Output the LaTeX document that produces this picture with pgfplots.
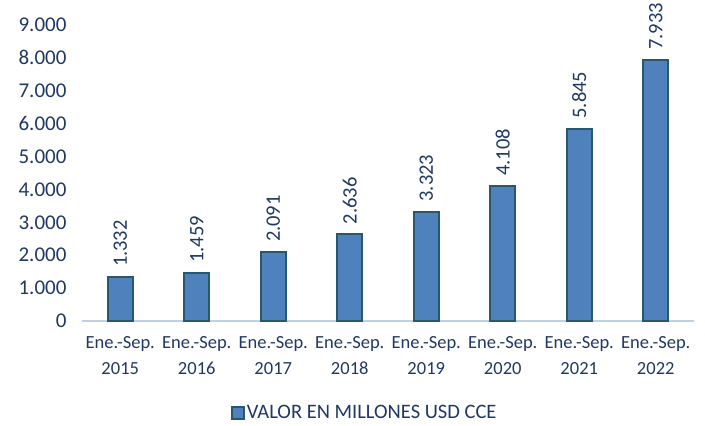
\documentclass[border=0pt]{standalone}
\usepackage{fontspec}
\setmainfont{Carlito}
\usepackage{pgfplots}
\pgfplotsset{compat=1.18}
\definecolor{barblue}{RGB}{79,129,189}
\definecolor{bardark}{RGB}{40,88,108}
\definecolor{txtblue}{RGB}{31,56,100}
\definecolor{axisline}{RGB}{191,208,228}
\begin{document}
\begin{tikzpicture}[x=1pt,y=1pt]
\path[use as bounding box] (-82,-105) rectangle (623,321);
\begin{axis}[
  at={(0,0)}, anchor=south west,
  scale only axis,
  width=612pt, height=296pt,
  ybar, bar width=25pt,
  xmin=-0.5, xmax=7.5,
  ymin=0, ymax=9000,
  ytick={0,1000,...,9000},
  xtick=data,
  xticklabels={{Ene.-Sep.\\2015},{Ene.-Sep.\\2016},{Ene.-Sep.\\2017},{Ene.-Sep.\\2018},{Ene.-Sep.\\2019},{Ene.-Sep.\\2020},{Ene.-Sep.\\2021},{Ene.-Sep.\\2022}},
  xticklabel style={align=center, font=\fontsize{18.5}{25.5}\selectfont, text=txtblue, yshift=-12pt},
  yticklabel style={font=\fontsize{21}{24}\selectfont, text=txtblue, xshift=-12pt},
  axis x line*=bottom,
  axis y line*=left,
  y axis line style={draw=none},
  x axis line style={draw=axisline, line width=1.2pt},
  major tick length=0pt,
  /pgf/number format/.cd, fixed, 1000 sep={.}, assume math mode=true,
  /pgfplots/.cd,
  scaled y ticks=false,
  clip=false,
  nodes near coords,
  every node near coord/.append style={rotate=90, anchor=west, font=\fontsize{20.5}{24}\selectfont, text=txtblue, xshift=6pt},
  legend style={at={(0.462,-0.31)}, anchor=center, draw=none, fill=none,
    font=\fontsize{20.5}{24}\selectfont, text=txtblue},
  legend image code/.code={\draw[#1] (0pt,-6pt) rectangle (12pt,6pt);},
]
\addplot[fill=barblue, draw=bardark, line width=1.8pt]
  coordinates {(0,1332)(1,1459)(2,2091)(3,2636)(4,3323)(5,4108)(6,5845)(7,7933)};
\addlegendentry{VALOR EN MILLONES USD CCE}
\end{axis}
\end{tikzpicture}
\end{document}
